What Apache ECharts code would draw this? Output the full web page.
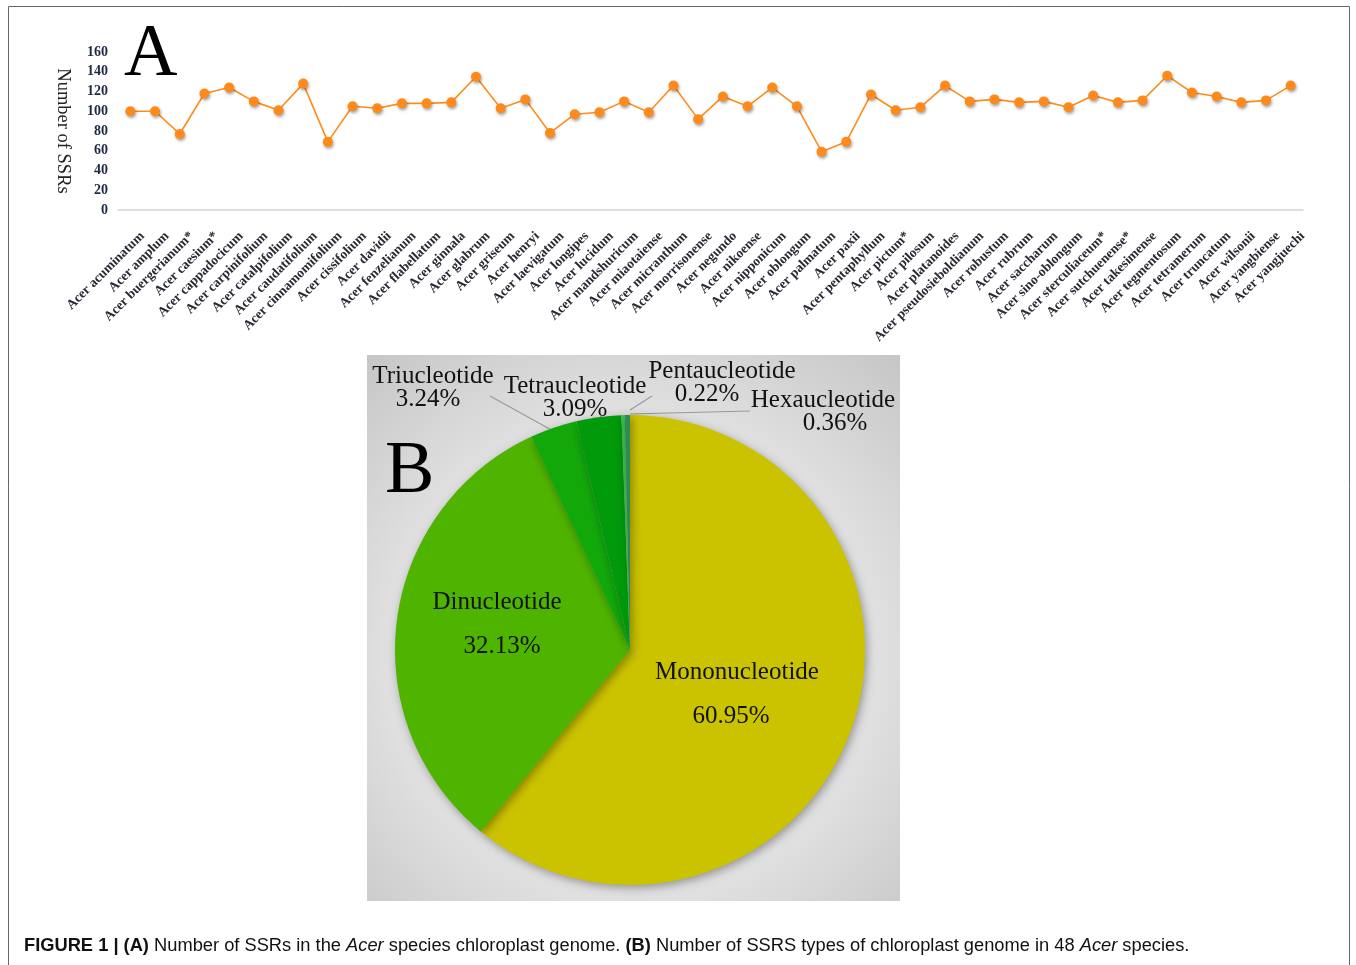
<!DOCTYPE html>
<html>
<head>
<meta charset="utf-8">
<script src="https://cdn.jsdelivr.net/npm/echarts@6/dist/echarts.min.js"></script>
<style>html,body{margin:0;padding:0;background:#fff}#c{width:1356px;height:965px}</style>
</head>
<body>
<div id="c"></div>
<script>
const species = ["Acer acuminatum","Acer amplum","Acer buergerianum*","Acer caesium*","Acer cappadocicum","Acer carpinifolium","Acer catalpifolium","Acer caudatifolium","Acer cinnamomifolium","Acer cissifolium","Acer davidii","Acer fenzelianum","Acer flabellatum","Acer ginnala","Acer glabrum","Acer griseum","Acer henryi","Acer laevigatum","Acer longipes","Acer lucidum","Acer mandshuricum","Acer miaotaiense","Acer micranthum","Acer morrisonense","Acer negundo","Acer nikoense","Acer nipponicum","Acer oblongum","Acer palmatum","Acer paxii","Acer pentaphyllum","Acer pictum*","Acer pilosum","Acer platanoides","Acer pseudosieboldianum","Acer robustum","Acer rubrum","Acer saccharum","Acer sino-oblongum","Acer sterculiaceum*","Acer sutchuenense*","Acer takesimense","Acer tegmentosum","Acer tetramerum","Acer truncatum","Acer wilsonii","Acer yangbiense","Acer yangjuechi"];
const ssrCounts = [100,100,77,118,124,110,101,128,69,105,103,108,108,109,135,103,112,78,97,99,110,99,126,92,115,105,124,105,59,69,117,101,104,126,110,112,109,110,104,116,109,111,136,119,115,109,111,126];
const yTicks = {min:0, max:160, interval:20};

const ssrTypes = ["Mononucleotide","Dinucleotide","Triucleotide","Tetraucleotide","Pentaucleotide","Hexaucleotide"];
const ssrPercents = [60.95,32.13,3.24,3.09,0.22,0.36];
const typeColors = ["#CCC300","#4FB400","#12A80A","#009A0A","#3DBE4A","#2E8B57"];

const serif = "'Liberation Serif','DejaVu Serif',serif";
const sans = "'Liberation Sans',Arial,sans-serif";

const labelPos = [
  {x:737, y:694, pts:null, pad:[0,12,0,0]},
  {x:497, y:624, pts:null, pad:[0,0,0,10]},
  {x:433, y:388, pts:[[490,396],[555,432]], pad:[0,10,0,0]},
  {x:575, y:398, pts:[[600,416],[606,419]], pad:[0,0,0,0]},
  {x:722, y:383, pts:[[630,410],[652,396]], pad:[0,30,0,0]},
  {x:823, y:412, pts:[[630,414],[750,411]], pad:[0,0,0,24]}
];

const chart = echarts.init(document.getElementById('c'), null, {renderer:'canvas'});
chart.setOption({
  animation:false,
  backgroundColor:'#ffffff',
  grid:{left:118, right:53, top:52, height:158, containLabel:false},
  xAxis:{
    type:'category', data:species, boundaryGap:true,
    axisLine:{show:true, lineStyle:{color:'#d4d4d4', width:1.5}},
    axisTick:{show:false},
    axisLabel:{interval:0, rotate:45, margin:12, verticalAlign:'top', lineHeight:34, fontFamily:serif, fontWeight:'bold', fontSize:13.5, color:'#2a2a35'}
  },
  yAxis:{
    type:'value', min:yTicks.min, max:yTicks.max, interval:yTicks.interval,
    name:'Number of SSRs', nameLocation:'middle', nameRotate:-90, nameGap:46,
    nameTextStyle:{fontFamily:serif, fontSize:18.5, color:'#222', padding:[0,0,8,0]},
    axisLine:{show:false}, axisTick:{show:false}, splitLine:{show:false},
    axisLabel:{fontFamily:serif, fontWeight:'bold', fontSize:14, color:'#1e2a44', margin:10}
  },
  graphic:[
    {type:'rect', z:-10, shape:{x:8.5, y:6.5, width:1341, height:975}, style:{fill:'none', stroke:'#666', lineWidth:1}},
    {type:'rect', z:0, shape:{x:367, y:355, width:533, height:546},
     style:{fill:new echarts.graphic.RadialGradient(0.5,0.55,0.75,[{offset:0,color:'#f4f4f4'},{offset:0.55,color:'#e4e4e4'},{offset:1,color:'#c6c6c6'}])}},
    {type:'text', z:10, left:124, top:19, style:{text:'A', fontFamily:serif, fontSize:74, fill:'#000'}},
    {type:'text', z:10, left:385, top:436, style:{text:'B', fontFamily:serif, fontSize:74, fill:'#000'}},
    {type:'text', z:10, left:24, top:937, style:{
      text:'{b|FIGURE 1 | (A)} Number of SSRs in the {i|Acer} species chloroplast genome. {b|(B)} Number of SSRS types of chloroplast genome in 48 {i|Acer} species.',
      fontFamily:sans, fontSize:18.3, fill:'#111',
      rich:{b:{fontFamily:sans, fontSize:18.3, fontWeight:'bold', fill:'#111'}, i:{fontFamily:sans, fontSize:18.3, fontStyle:'italic', fill:'#111'}}
    }}
  ],
  series:[
    {
      type:'line', data:ssrCounts, symbol:'circle', symbolSize:10,
      lineStyle:{color:'#FF8C1A', width:1.6},
      itemStyle:{color:'#FF8A1C', shadowBlur:3, shadowColor:'rgba(0,0,0,0.35)', shadowOffsetX:1, shadowOffsetY:2},
      z:5
    },
    {
      type:'pie', center:[630,650], radius:235, startAngle:90, clockwise:true, z:3,
      data:ssrTypes.map((n,i)=>{
        const lh = i<2 ? 44 : 23;
        return {name:n, value:ssrPercents[i], itemStyle:{color:typeColors[i]},
          label:{position: i<2 ? 'inside' : 'outside', lineHeight: lh,
            rich:{n:{fontFamily:serif, fontSize:25, color:'#111', lineHeight:lh},
                  p:{fontFamily:serif, fontSize:25, color:'#111', lineHeight:lh, padding:labelPos[i].pad}}},
          labelLine:{show: i>=2}};
      }),
      itemStyle:{shadowBlur:10, shadowColor:'rgba(0,0,0,0.35)', shadowOffsetX:2, shadowOffsetY:3, borderWidth:0},
      label:{show:true, formatter:p=>'{n|'+p.name+'}\n{p|'+p.value.toFixed(2)+'%}', fontFamily:serif, fontSize:25, color:'#111', align:'center'},
      labelLine:{lineStyle:{color:'#9a9a9a', width:1.2}},
      labelLayout:function(p){
        const L = labelPos[p.dataIndex];
        const r = {x:L.x, y:L.y, align:'center', verticalAlign:'middle'};
        if (L.pts) r.labelLinePoints = [L.pts[0], L.pts[1], L.pts[1]];
        return r;
      },
      emphasis:{disabled:true}
    }
  ]
});
</script>
</body>
</html>
